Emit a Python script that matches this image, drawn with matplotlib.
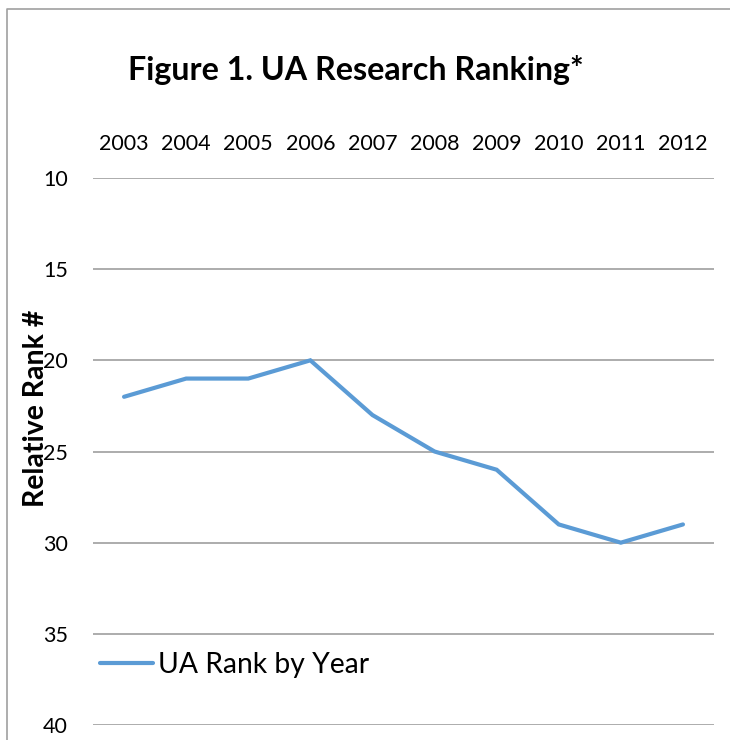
import matplotlib
matplotlib.use("Agg")
import matplotlib.pyplot as plt
from matplotlib.lines import Line2D

years = ["2003", "2004", "2005", "2006", "2007", "2008", "2009", "2010", "2011", "2012"]
ranks = [22, 21, 21, 20, 23, 25, 26, 29, 30, 29]
y_ticks = [10, 15, 20, 25, 30, 35, 40]

BLUE = "#5B9BD5"
GRID = "#A6A6A6"

plt.rcParams["font.family"] = ["Lato", "DejaVu Sans"]

fig = plt.figure(figsize=(7.3, 7.4), dpi=100)
ax = fig.add_axes([93 / 730, 1 - 725 / 740, (714 - 93) / 730, (725 - 178) / 740])

x = list(range(len(years)))
ax.plot(x, ranks, color=BLUE, lw=3, solid_capstyle="round", solid_joinstyle="miter",
        label="UA Rank by Year")

ax.set_xlim(-0.5, len(years) - 0.5)
ax.set_ylim(40, 10)
ax.set_yticks(y_ticks)
ax.set_xticks(x)
ax.set_xticklabels(years)
ax.xaxis.tick_top()
ax.tick_params(axis="both", length=0, labelsize=15.5, colors="black")
ax.tick_params(axis="y", pad=18)
ax.tick_params(axis="x", pad=17)
ax.grid(axis="y", color=GRID, lw=1.3)
ax.set_axisbelow(True)
for s in ax.spines.values():
    s.set_visible(False)

ax.legend(loc="center left", bbox_to_anchor=(7 / 621, 0.11), frameon=False,
          fontsize=20.3, handlelength=1.87, handletextpad=0.18, borderaxespad=0,
          borderpad=0)

fig.text(356 / 730, 1 - 80 / 740, "Figure 1. UA Research Ranking*", ha="center", va="baseline",
         fontsize=23.2, fontweight="bold")
fig.text(36 / 730, 1 - 408 / 740, "Relative Rank #", rotation=90, ha="center", va="center",
         fontsize=20.5, fontweight="bold")

# chart area border: only the left and top edges fall inside the image
bx, by = 7 / 730, 1 - 9 / 740
fig.add_artist(Line2D([bx, bx, 1.0], [0.0, by, by], transform=fig.transFigure,
                      color="#A0A0A0", lw=1.2))

fig.savefig("out.png", dpi=100, facecolor="white")
